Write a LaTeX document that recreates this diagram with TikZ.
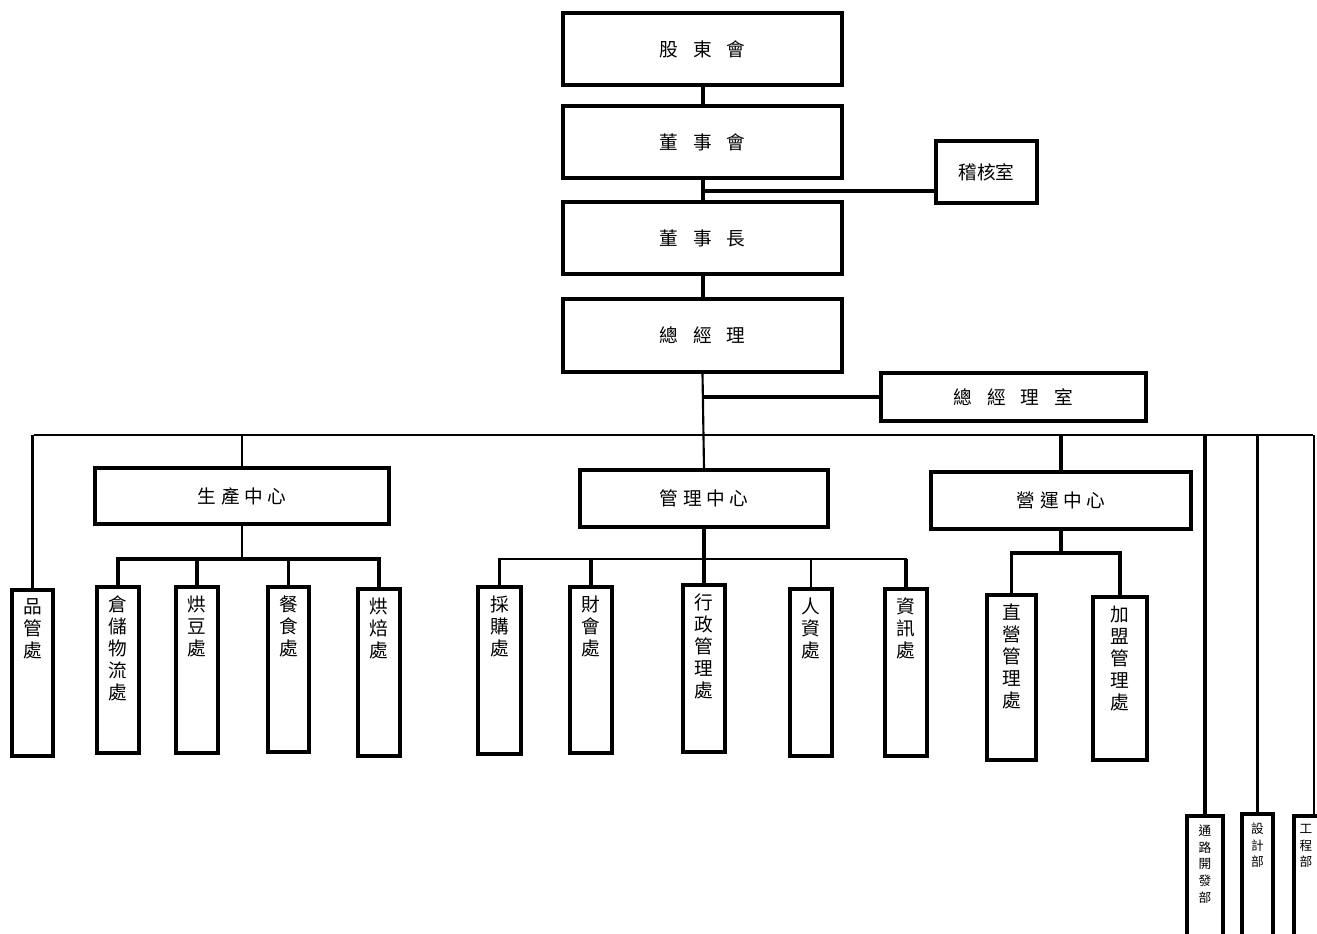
\documentclass[tikz,border=0pt]{standalone}
\usepackage{fontspec}
\newfontfamily\cjk{Noto Sans CJK TC}
\begin{document}
\begin{tikzpicture}[x=0.75pt,y=-0.75pt,
  box/.style={draw=black,line width=2.3pt,fill=white,inner sep=0pt,font=\cjk\fontsize{14}{16}\selectfont},
  vtext/.style={anchor=north,inner sep=0pt,align=center,font=\cjk\fontsize{14}{16.5}\selectfont},
  stext/.style={anchor=north,inner sep=0pt,align=center,font=\cjk\fontsize{9.5}{12.5}\selectfont},
  thick line/.style={line width=3pt},
  thin line/.style={line width=1.6pt},
  mid line/.style={line width=2.3pt}]
\newcommand\orgbox[6]{\node[box,minimum width={(#4-#2)*0.75pt},minimum height={(#5-#3)*0.75pt}] (#1) at ({(#2+#4)/2},{(#3+#5)/2}) {#6};}
\newcommand\orgvbox[7]{\node[box,minimum width={(#4-#2)*0.75pt},minimum height={(#5-#3)*0.75pt}] (#1) at ({(#2+#4)/2},{(#3+#5)/2}) {};
  \node[#7] (#1t) at ([yshift=-10*0.75pt]#1.north) {#6};}
\useasboundingbox (0,0) rectangle (1317,933);
\clip (0,0) rectangle (1317,933);
\fill[white] (0,0) rectangle (1317,933);
% top chain
\orgbox{gd}{563}{13}{842}{85}{股\hspace{0.8em}東\hspace{0.8em}會}
\orgbox{dsh}{563}{106}{842}{178}{董\hspace{0.8em}事\hspace{0.8em}會}
\orgbox{dsz}{563}{202}{842}{274}{董\hspace{0.8em}事\hspace{0.8em}長}
\orgbox{zjl}{563}{299}{842}{372}{總\hspace{0.8em}經\hspace{0.8em}理}
\orgbox{jh}{936}{141}{1037}{203}{稽核室}
\orgbox{zjls}{881}{373}{1146}{421}{總\hspace{0.8em}經\hspace{0.8em}理\hspace{0.8em}室}
% centers
\orgbox{sc}{95}{468}{389}{524}{生\hspace{0.25em}產\hspace{0.25em}中\hspace{0.25em}心}
\orgbox{gl}{580}{470}{828}{527}{管\hspace{0.25em}理\hspace{0.25em}中\hspace{0.25em}心}
\orgbox{yy}{931}{472}{1191}{529}{營\hspace{0.25em}運\hspace{0.25em}中\hspace{0.25em}心}
% production children
\orgvbox{pg}{12}{590}{53}{756}{品\\管\\處}{vtext}
\orgvbox{cc}{97}{587}{139}{753}{倉\\儲\\物\\流\\處}{vtext}
\orgvbox{hd}{176}{587}{218}{753}{烘\\豆\\處}{vtext}
\orgvbox{cs}{268}{587}{309}{752}{餐\\食\\處}{vtext}
\orgvbox{hb}{358}{589}{400}{756}{烘\\焙\\處}{vtext}
% management children
\orgvbox{cg}{478}{587}{521}{754}{採\\購\\處}{vtext}
\orgvbox{ck}{570}{587}{612}{753}{財\\會\\處}{vtext}
\orgvbox{xz}{683}{585}{725}{752}{行\\政\\管\\理\\處}{vtext}
\orgvbox{rz}{790}{589}{832}{756}{人\\資\\處}{vtext}
\orgvbox{zx}{885}{589}{927}{756}{資\\訊\\處}{vtext}
% operations children
\orgvbox{zy}{987}{595}{1036}{760}{直\\營\\管\\理\\處}{vtext}
\orgvbox{jm}{1093}{597}{1147}{760}{加\\盟\\管\\理\\處}{vtext}
% right departments
\orgvbox{tl}{1187}{816}{1223}{960}{通\\路\\開\\發\\部}{stext}
\orgvbox{sj}{1242}{814}{1273}{960}{設\\計\\部}{stext}
\node[box,minimum width={40*0.75pt},minimum height={144*0.75pt}] (gc) at (1314,888) {};
\node[stext] (gct) at (1306,824) {工\\程\\部};
% connectors top chain
\coordinate (jhy) at (0,191);
\draw[thick line] (gd.south) -- (dsh.north);
\draw[thick line] (dsh.south) -- (dsz.north);
\draw[mid line] (jh.west |- jhy) -- (dsh.south |- jhy);
\draw[thick line] (dsz.south) -- (zjl.north);
\draw[thin line] (zjl.south) -- (gl.north);
\draw[mid line] (zjls.west) -- (zjls.west -| zjl.south);
% main bus
\coordinate (busL) at (34,435);
\coordinate (busR) at (1313,435);
\draw[thin line] (busL) -- (busR);
\draw[thin line] (pg.north) -- (pg.north |- busL);
\draw[thin line] (sc.north) -- (sc.north |- busL);
\draw[mid line] (yy.north) -- (yy.north |- busL);
\draw[mid line] (tl.north) -- (tl.north |- busL);
\draw[thin line] (sj.north) -- (sj.north |- busL);
\draw[thin line] (gc.north) -- (gc.north |- busL);
% production bus
\coordinate (scb) at (241,559);
\draw[thin line] (sc.south) -- (sc.south |- scb);
\draw[mid line] (cc.north) |- (hb.north |- scb) -- (hb.north);
\draw[mid line] (hd.north) -- (hd.north |- scb);
\draw[thin line] (cs.north) -- (cs.north |- scb);
% management bus
\coordinate (glb) at (704,559);
\draw[mid line] (gl.south) -- (xz.north);
\draw[thin line] (cg.north) |- (zx.north |- glb) -- (zx.north);
\draw[mid line] (cg.north) -- (cg.north |- glb);
\draw[mid line] (ck.north) -- (ck.north |- glb);
\draw[thin line] (rz.north) -- (rz.north |- glb);
\draw[thick line] (zx.north) -- (zx.north |- glb);
% operations bus
\coordinate (yyb) at (1061,553);
\draw[mid line] (yy.south) -- (yy.south |- yyb);
\draw[mid line] (zy.north) |- (jm.north |- yyb) -- (jm.north);
\end{tikzpicture}
\end{document}
